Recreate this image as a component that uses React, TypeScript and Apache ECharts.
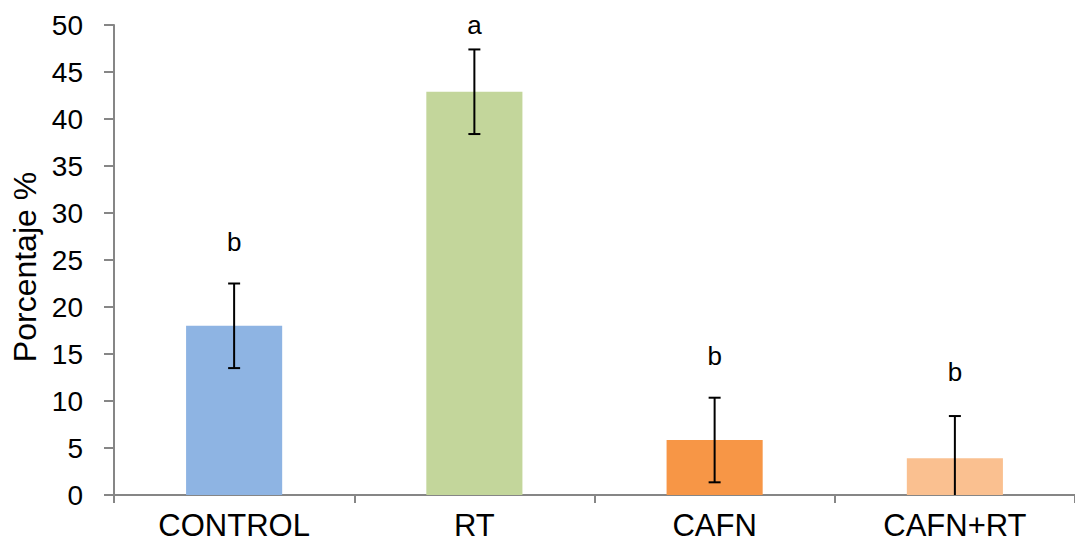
import React, { useEffect, useRef } from "react";
import * as echarts from "echarts";

const categories = ["CONTROL", "RT", "CAFN", "CAFN+RT"];
const means = [18.0, 42.9, 5.85, 3.9];
const errors = [4.5, 4.5, 4.5, 4.5];
const letters = ["b", "a", "b", "b"];
const letterValues = [26.9, 50.0, 14.8, 13.1];
const barColors = ["#8EB4E3", "#C3D69B", "#F79646", "#FAC090"];

export default function App() {
  const ref = useRef<HTMLDivElement>(null);
  useEffect(() => {
    if (!ref.current) return;
    const chart = echarts.init(ref.current, null, { renderer: "svg" });
    const font = "'Liberation Sans', Arial, sans-serif";
    chart.setOption({
      animation: false,
      grid: { left: 114, right: -3, top: 25, bottom: 58, containLabel: false },
      xAxis: {
        type: "category",
        data: categories,
        axisLine: { lineStyle: { color: "#868686", width: 2 } },
        axisTick: { show: true, length: 8, lineStyle: { color: "#868686", width: 2 } },
        axisLabel: { color: "#000", fontSize: 31, fontFamily: font, margin: 15 },
      },
      yAxis: {
        type: "value",
        min: 0,
        max: 50,
        interval: 5,
        name: "Porcentaje %",
        nameLocation: "middle",
        nameGap: 72,
        nameTextStyle: { color: "#000", fontSize: 32, fontFamily: font, padding: [0, 14, 0, 0] },
        splitLine: { show: false },
        axisLine: { show: true, lineStyle: { color: "#868686", width: 2 } },
        axisTick: { show: true, length: 10, lineStyle: { color: "#868686", width: 2 } },
        axisLabel: { color: "#000", fontSize: 28, fontFamily: font, margin: 31 },
      },
      series: [
        {
          type: "bar",
          barWidth: "40%",
          data: means.map((v, i) => ({ value: v, itemStyle: { color: barColors[i] } })),
        },
        {
          type: "custom",
          clip: false,
          z: 10,
          data: means.map((m, i) => [i, m, errors[i], letterValues[i]]),
          renderItem: (params: any, api: any) => {
            const i = api.value(0);
            const m = api.value(1);
            const e = api.value(2);
            const lv = api.value(3);
            const hi = m + e;
            const loRaw = m - e;
            const lo = Math.max(0, loRaw);
            const pHi = api.coord([i, hi]);
            const pLo = api.coord([i, lo]);
            const pL = api.coord([i, lv]);
            const x = pHi[0];
            const cap = 6;
            const style = { stroke: "#000", lineWidth: 2 };
            const children: any[] = [
              { type: "line", shape: { x1: x, y1: pHi[1], x2: x, y2: pLo[1] }, style },
              { type: "line", shape: { x1: x - cap, y1: pHi[1], x2: x + cap, y2: pHi[1] }, style },
            ];
            if (loRaw >= 0) {
              children.push({ type: "line", shape: { x1: x - cap, y1: pLo[1], x2: x + cap, y2: pLo[1] }, style });
            }
            children.push({
              type: "text",
              style: {
                text: letters[params.dataIndex],
                x: x,
                y: pL[1],
                align: "center",
                verticalAlign: "middle",
                fill: "#000",
                fontSize: 26,
                fontFamily: font,
              },
            });
            return { type: "group", children };
          },
        },
      ],
    });
    return () => chart.dispose();
  }, []);
  return (
    <div
      ref={ref}
      style={{ position: "fixed", left: 0, top: 0, width: 1075, height: 553, background: "#fff" }}
    />
  );
}
